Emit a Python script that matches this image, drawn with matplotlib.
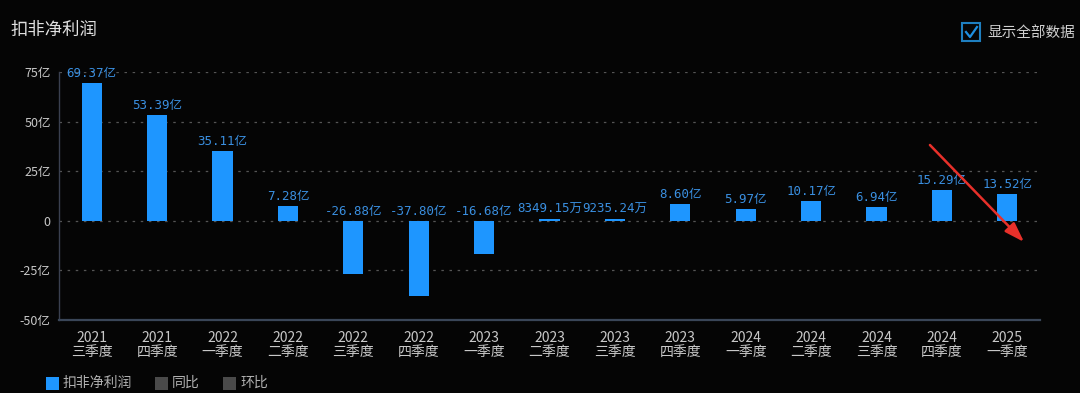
import matplotlib
matplotlib.use("Agg")
import matplotlib.pyplot as plt
from matplotlib.patches import Rectangle, FancyArrowPatch

plt.rcParams['font.family'] = ['Noto Sans CJK SC', 'DejaVu Sans']

years = ["2021", "2021", "2022", "2022", "2022", "2022", "2023", "2023",
         "2023", "2023", "2024", "2024", "2024", "2024", "2025"]
quarters = ["三季度", "四季度", "一季度", "二季度", "三季度", "四季度", "一季度", "二季度",
            "三季度", "四季度", "一季度", "二季度", "三季度", "四季度", "一季度"]
values = [69.37, 53.39, 35.11, 7.28, -26.88, -37.80, -16.68, 0.834915,
          0.923524, 8.60, 5.97, 10.17, 6.94, 15.29, 13.52]  # 亿
yticks = [-50, -25, 0, 25, 50, 75]
ytick_labels = ["-50亿", "-25亿", "0", "25亿", "50亿", "75亿"]

BG = "#050505"
BAR = "#1e96ff"
LBL = "#3a8fe0"
TXT = "#c8c8c8"

fig = plt.figure(figsize=(10.8, 3.93), dpi=100, facecolor=BG)
ax = fig.add_axes([59/1080, 1-320/393, (1040-59)/1080, (320-72)/393])
ax.set_facecolor(BG)

x = list(range(len(values)))
ax.bar(x, values, width=0.31, color=BAR, zorder=3)
ax.set_xlim(-0.5, len(values) - 0.5)
ax.set_ylim(-50, 75)

for yv in yticks[1:]:
    ax.axhline(yv, color="#555555", lw=0.9, ls=(0, (2, 4.5)), zorder=1)

def fmt(v):
    if abs(v) >= 1:
        return f"{v:.2f}亿"
    return f"{v*10000:.2f}万"

mono = ['DejaVu Sans Mono', 'Noto Sans CJK SC']
for xi, v in zip(x, values):
    ypos = max(v, 0) + 1.5
    ax.text(xi, ypos, fmt(v), ha="center", va="bottom", color=LBL,
            fontsize=9, family=mono, zorder=4)

ax.set_yticks(yticks)
ax.set_yticklabels(ytick_labels, color=TXT, fontsize=9)
ax.set_xticks(x)
ax.set_xticklabels([f"{a}\n{b}" for a, b in zip(years, quarters)],
                   color=TXT, fontsize=10, linespacing=0.95)
ax.tick_params(axis="both", length=0, pad=6)
ax.tick_params(axis="x", pad=8)

for s in ["top", "right"]:
    ax.spines[s].set_visible(False)
ax.spines["left"].set_color("#3a4050")
ax.spines["left"].set_linewidth(1.0)
ax.spines["bottom"].set_color("#3a4658")
ax.spines["bottom"].set_linewidth(1.6)

# title
fig.text(10/1080, 1-30/393, "扣非净利润", color="#e0e0e0", fontsize=12.5,
         va="center", ha="left")

# checkbox
fig.patches.append(Rectangle((962/1080, 1-41/393), 18/1080, 18/393,
                             transform=fig.transFigure, fill=False,
                             edgecolor="#1e7fc0", lw=1.5))
fig.lines.append(plt.Line2D([966/1080, 970/1080, 977/1080],
                            [1-32/393, 1-37/393, 1-27/393],
                            transform=fig.transFigure, color="#1e8fe0", lw=1.6))
fig.text(987/1080, 1-33/393, "显示全部数据", color="#d0d0d0", fontsize=10.5,
         va="center", ha="left")

# legend
legend_items = [(46, "#1e96ff", "扣非净利润"), (155, "#4a4a4a", "同比"), (223, "#4a4a4a", "环比")]
for lx, col, name in legend_items:
    fig.patches.append(Rectangle((lx/1080, 1-390/393), 13/1080, 13/393,
                                 transform=fig.transFigure, facecolor=col,
                                 edgecolor="none"))
    fig.text((lx+17)/1080, 1-383/393, name, color="#b0b0b0", fontsize=10,
             va="center", ha="left")

# red arrow
arr = FancyArrowPatch((928/1080, 1-143/393), (1026/1080, 1-244/393),
                      transform=fig.transFigure,
                      arrowstyle="-|>,head_length=12,head_width=4",
                      color="#e8302a", lw=1.8, mutation_scale=1)
fig.patches.append(arr)

fig.savefig("out.png", dpi=100, facecolor=BG)
